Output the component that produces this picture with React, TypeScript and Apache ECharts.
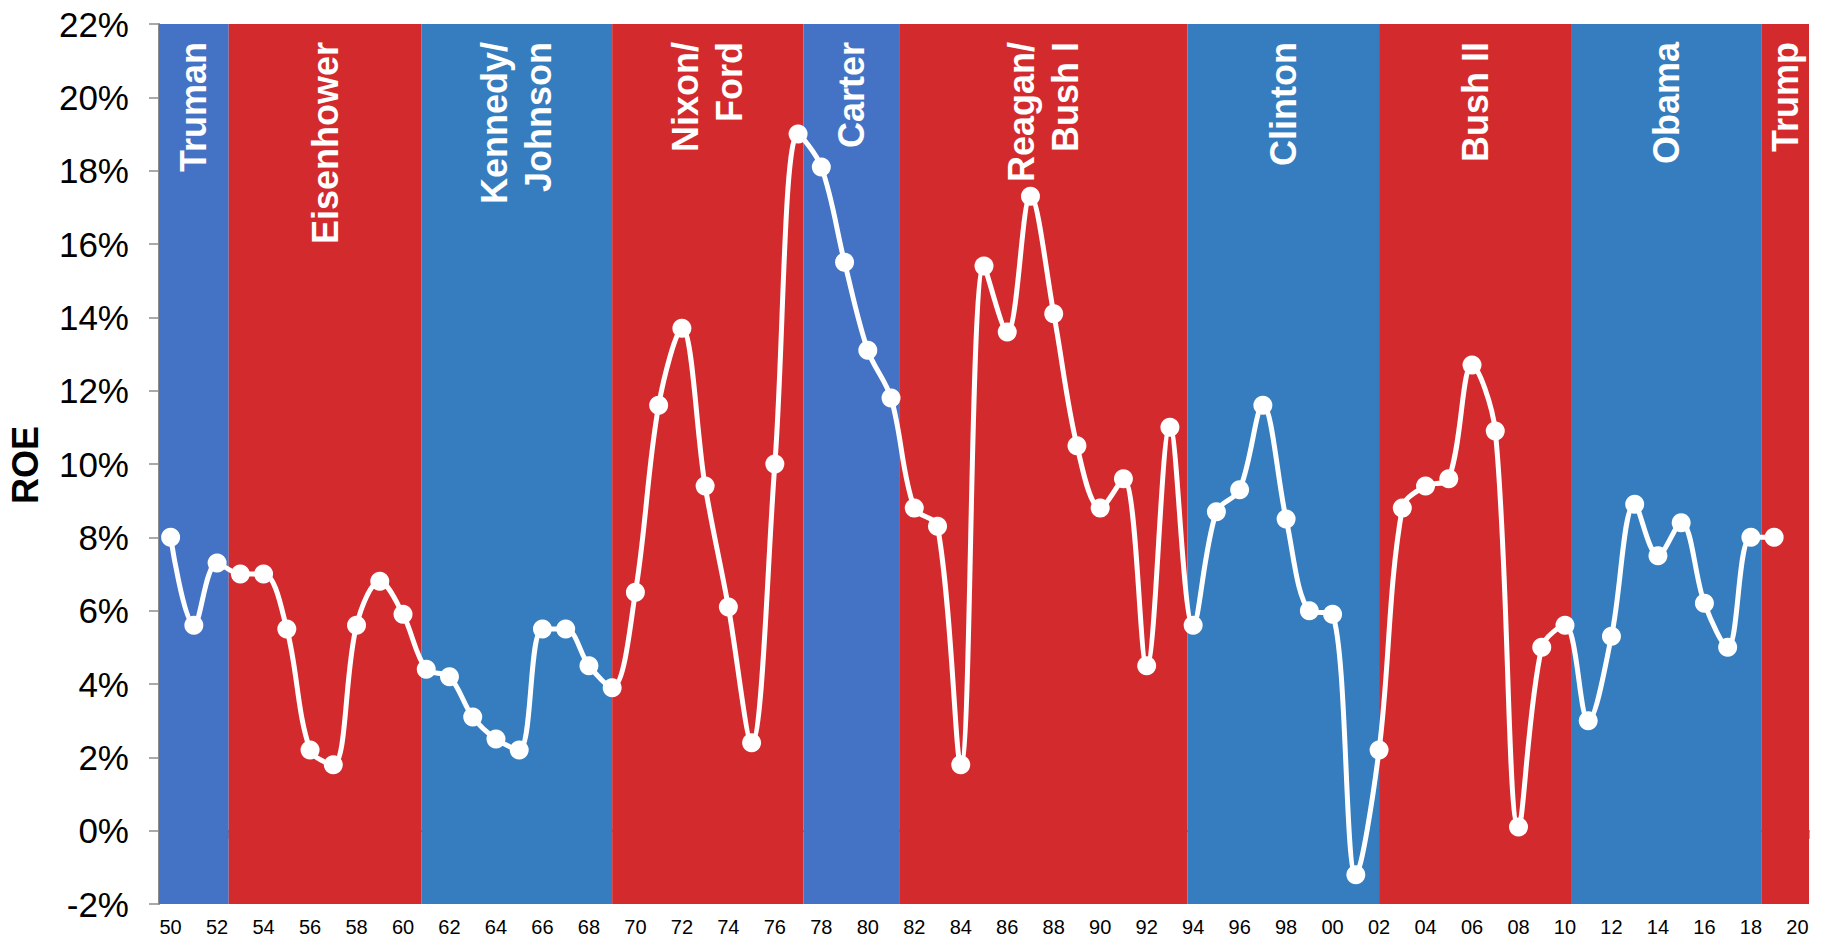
import React, { useEffect, useRef } from "react";
import * as echarts from "echarts";

const yearLabels = [
  "50","51","52","53","54","55","56","57","58","59",
  "60","61","62","63","64","65","66","67","68","69",
  "70","71","72","73","74","75","76","77","78","79",
  "80","81","82","83","84","85","86","87","88","89",
  "90","91","92","93","94","95","96","97","98","99",
  "00","01","02","03","04","05","06","07","08","09",
  "10","11","12","13","14","15","16","17","18","19",
  "20",
];

const roeValues = [
  8.0, 5.6, 7.3, 7.0, 7.0, 5.5, 2.2, 1.8, 5.6, 6.8,
  5.9, 4.4, 4.2, 3.1, 2.5, 2.2, 5.5, 5.5, 4.5, 3.9,
  6.5, 11.6, 13.7, 9.4, 6.1, 2.4, 10.0, 19.0, 18.1, 15.5,
  13.1, 11.8, 8.8, 8.3, 1.8, 15.4, 13.6, 17.3, 14.1, 10.5,
  8.8, 9.6, 4.5, 11.0, 5.6, 8.7, 9.3, 11.6, 8.5, 6.0,
  5.9, -1.2, 2.2, 8.8, 9.4, 9.6, 12.7, 10.9, 0.1, 5.0,
  5.6, 3.0, 5.3, 8.9, 7.5, 8.4, 6.2, 5.0, 8.0, 8.0,
];

const bandLabels = [
  "Truman", "Eisenhower", "Kennedy/\nJohnson", "Nixon/\nFord", "Carter",
  "Reagan/\nBush I", "Clinton", "Bush II", "Obama", "Trump",
];
const bandStarts = [0, 3.0, 11.3, 19.5, 27.73, 31.85, 44.26, 52.5, 60.76, 68.97];
const bandEnds = [3.0, 11.3, 19.5, 27.73, 31.85, 44.26, 52.5, 60.76, 68.97, 71];
const bandColors = [
  "#4472C4", "#D32B2D", "#357DBE", "#D32B2D", "#4472C4",
  "#D32B2D", "#357DBE", "#D32B2D", "#357DBE", "#D32B2D",
];

const yMin = -2;
const yMax = 22;
const FONT = '"Liberation Sans", Arial, Helvetica, sans-serif';

export default function App() {
  const ref = useRef<HTMLDivElement>(null);

  useEffect(() => {
    if (!ref.current) return;
    const chart = echarts.init(ref.current, null, { renderer: "svg" });
    const bandData = bandStarts.map((s, i) => [s, bandEnds[i], i]);

    chart.setOption({
      animation: false,
      backgroundColor: "#ffffff",
      grid: { left: 159, right: 14, top: 24, bottom: 37 },
      xAxis: [
        {
          type: "category",
          data: yearLabels,
          boundaryGap: true,
          axisLine: { show: true, lineStyle: { color: "#8c8c8c", width: 2 } },
          axisTick: { show: true, interval: 0, length: 8, lineStyle: { color: "#8c8c8c", width: 1.5 } },
          axisLabel: {
            interval: 1,
            color: "#000",
            fontSize: 20,
            fontFamily: FONT,
            margin: 13,
          },
          splitLine: { show: false },
        },
        {
          type: "value",
          min: 0,
          max: 71,
          show: false,
        },
      ],
      yAxis: {
        type: "value",
        min: yMin,
        max: yMax,
        interval: 2,
        axisLine: { show: true, lineStyle: { color: "#8c8c8c", width: 2 } },
        axisTick: { show: true, length: 10, lineStyle: { color: "#8c8c8c", width: 1.5 } },
        axisLabel: {
          color: "#000",
          fontSize: 35,
          fontFamily: FONT,
          margin: 30,
          formatter: (v: number) => `${v}%`,
        },
        splitLine: { show: false },
      },
      graphic: [
        {
          type: "text",
          x: 25,
          y: 465,
          rotation: Math.PI / 2,
          style: {
            text: "ROE",
            fill: "#000",
            font: `bold 36px ${FONT}`,
            align: "center",
            verticalAlign: "middle",
          },
        },
      ],
      series: [
        {
          type: "custom",
          xAxisIndex: 1,
          yAxisIndex: 0,
          z: 1,
          silent: true,
          data: bandData,
          encode: { x: [0, 1] },
          renderItem: (params: any, api: any) => {
            const s = api.value(0);
            const e = api.value(1);
            const idx = api.value(2);
            const p0 = api.coord([s, yMax]);
            const p1 = api.coord([e, yMin]);
            return {
              type: "group",
              children: [
                {
                  type: "rect",
                  shape: { x: p0[0], y: p0[1], width: p1[0] - p0[0], height: p1[1] - p0[1] },
                  style: { fill: bandColors[idx] },
                },
                {
                  type: "text",
                  x: (p0[0] + p1[0]) / 2,
                  y: p0[1] + 18,
                  rotation: Math.PI / 2,
                  style: {
                    text: bandLabels[idx],
                    fill: "#ffffff",
                    font: `bold 36px ${FONT}`,
                    align: "right",
                    verticalAlign: "middle",
                    lineHeight: 44,
                  },
                },
              ],
            };
          },
        },
        {
          type: "line",
          xAxisIndex: 0,
          yAxisIndex: 0,
          z: 3,
          data: roeValues,
          smooth: 0.35,
          symbol: "circle",
          symbolSize: 19,
          showSymbol: true,
          showAllSymbol: true,
          lineStyle: { color: "#ffffff", width: 5 },
          itemStyle: { color: "#ffffff", borderWidth: 0 },
        },
      ],
    });

    return () => chart.dispose();
  }, []);

  return (
    <div
      ref={ref}
      style={{ position: "fixed", left: 0, top: 0, width: 1823, height: 941 }}
    />
  );
}
